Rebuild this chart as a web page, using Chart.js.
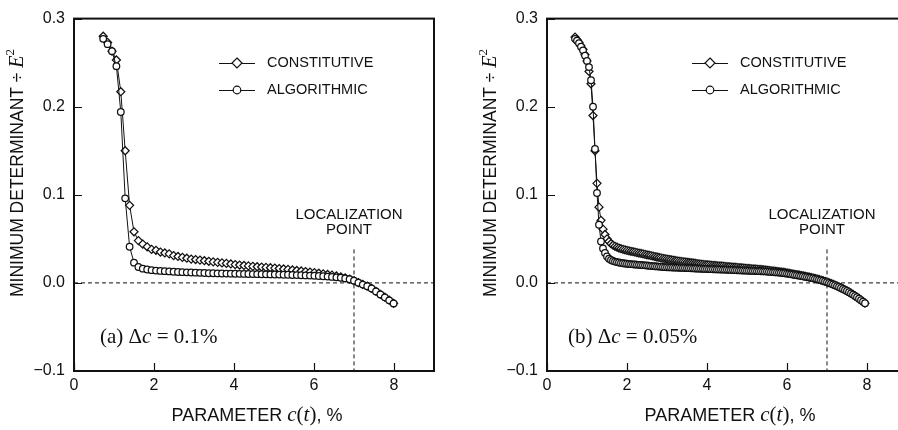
<!DOCTYPE html>
<html>
<head>
<meta charset="utf-8">
<script src="https://cdn.jsdelivr.net/npm/chart.js@4.4.1/dist/chart.umd.min.js"></script>
<style>
  html, body { margin: 0; padding: 0; background: #fff; }
  #wrap { position: relative; width: 898px; height: 430px; overflow: hidden; }
  .panel { position: absolute; top: 0; width: 473px; height: 430px; }
</style>
</head>
<body>
<div id="wrap">
  <div class="panel" style="left:0"><canvas id="chart-a" width="473" height="430"></canvas></div>
  <div class="panel" style="left:473px"><canvas id="chart-b" width="473" height="430"></canvas></div>
</div>
<script>
// panel (a): dc = 0.1 %
const cA = [
  0.73,0.84,0.95,1.06,1.17,1.28,1.39,1.50,1.61,1.72,
  1.83,1.94,2.05,2.16,2.27,2.38,2.49,2.60,2.71,2.82,
  2.93,3.04,3.15,3.26,3.37,3.48,3.59,3.70,3.81,3.92,
  4.03,4.14,4.25,4.36,4.47,4.58,4.69,4.80,4.91,5.02,
  5.13,5.24,5.35,5.46,5.57,5.68,5.79,5.90,6.01,6.12,
  6.23,6.34,6.45,6.56,6.67,6.78,6.89,7.00,7.11,7.22,
  7.33,7.44,7.55,7.66,7.77,7.88,7.99
];
const constA = [
  .280,.273,.263,.253,.217,.150,.088,.058,.048,.044,
  .041,.038,.037,.035,.034,.033,.031,.030,.029,.028,
  .027,.0265,.0259,.0252,.0245,.0239,.0233,.0227,.0221,.0215,
  .0208,.0203,.0198,.0193,.0188,.0184,.0180,.0176,.0172,.0168,
  .0163,.0158,.0153,.0147,.0141,.0135,.0129,.0123,.0117,.0110,
  .0103,.0096,.0088,.0079,.0069,.0058,.0044,.0026,.0004,-.0017,
  -.0037,-.0063,-.0095,-.0129,-.0162,-.0196,-.0232
];
const algoA = [
  .277,.271,.263,.246,.194,.096,.041,.023,.018,.0162,
  .0152,.0145,.0140,.0136,.0133,.0130,.0127,.0124,.0122,.0120,
  .0118,.0116,.0114,.0112,.0110,.0109,.0108,.0107,.0106,.0105,
  .0104,.0103,.0102,.0101,.0100,.0099,.0098,.0097,.0096,.0095,
  .0094,.0093,.0092,.0090,.0089,.0087,.0085,.0083,.0081,.0078,
  .0075,.0072,.0068,.0063,.0058,.0051,.0041,.0025,.0003,-.0019,
  -.0038,-.0064,-.0097,-.0131,-.0164,-.0198,-.0233
];

// panel (b): dc = 0.05 %
const cB = [
  0.70,0.75,0.80,0.85,0.90,0.95,1.00,1.05,1.10,1.15,
  1.20,1.25,1.30,1.35,1.40,1.45,1.50,1.55,1.60,1.65,
  1.70,1.75,1.80,1.85,1.90,1.95,2.00,2.05,2.10,2.15,
  2.20,2.25,2.30,2.35,2.40,2.45,2.50,2.55,2.60,2.65,
  2.70,2.75,2.80,2.85,2.90,2.95,3.00,3.05,3.10,3.15,
  3.20,3.25,3.30,3.35,3.40,3.45,3.50,3.55,3.60,3.65,
  3.70,3.75,3.80,3.85,3.90,3.95,4.00,4.05,4.10,4.15,
  4.20,4.25,4.30,4.35,4.40,4.45,4.50,4.55,4.60,4.65,
  4.70,4.75,4.80,4.85,4.90,4.95,5.00,5.05,5.10,5.15,
  5.20,5.25,5.30,5.35,5.40,5.45,5.50,5.55,5.60,5.65,
  5.70,5.75,5.80,5.85,5.90,5.95,6.00,6.05,6.10,6.15,
  6.20,6.25,6.30,6.35,6.40,6.45,6.50,6.55,6.60,6.65,
  6.70,6.75,6.80,6.85,6.90,6.95,7.00,7.05,7.10,7.15,
  7.20,7.25,7.30,7.35,7.40,7.45,7.50,7.55,7.60,7.65,
  7.70,7.75,7.80,7.85,7.90,7.95
];
const constB = [
  .279,.276,.273,.269,.265,.259,.252,.240,.226,.190,
  .150,.113,.086,.071,.061,.055,.050,.047,.0445,.0428,
  .0415,.0405,.0396,.0388,.0381,.0375,.0369,.0364,.0359,.0354,
  .0349,.0344,.0339,.0334,.0329,.0324,.0319,.0314,.0309,.0304,
  .0299,.0294,.0289,.0284,.0279,.0275,.0271,.0267,.0263,.0259,
  .0255,.0251,.0247,.0244,.0241,.0238,.0235,.0232,.0229,.0226,
  .0223,.0220,.0217,.0214,.0211,.0208,.0206,.0204,.0202,.0200,
  .0198,.0196,.0194,.0192,.0190,.0188,.0186,.0184,.0182,.0180,
  .0178,.0176,.0174,.0172,.0170,.0168,.0166,.0164,.0162,.0160,
  .0158,.0156,.0154,.0152,.0150,.0148,.0145,.0142,.0139,.0136,
  .0133,.0130,.0127,.0124,.0121,.0118,.0114,.0110,.0106,.0102,
  .0098,.0094,.0090,.0086,.0082,.0077,.0072,.0067,.0062,.0057,
  .0051,.0045,.0039,.0032,.0025,.0018,.0010,.0002,-.0006,-.0015,
  -.0024,-.0034,-.0044,-.0055,-.0066,-.0078,-.0090,-.0103,-.0117,-.0131,
  -.0146,-.0162,-.0178,-.0195,-.0212,-.0230
];
const algoB = [
  .277,.275,.272,.268,.264,.258,.252,.245,.230,.200,
  .152,.102,.066,.047,.039,.034,.030,.0275,.0260,.0250,
  .0242,.0236,.0231,.0227,.0223,.0220,.0217,.0215,.0213,.0211,
  .0209,.0207,.0205,.0203,.0201,.0199,.0197,.0195,.0193,.0191,
  .0189,.0187,.0185,.0183,.0181,.0179,.0178,.0177,.0176,.0175,
  .0174,.0173,.0172,.0171,.0170,.0169,.0168,.0167,.0166,.0165,
  .0164,.0163,.0162,.0161,.0160,.0159,.0158,.0157,.0156,.0155,
  .0154,.0153,.0153,.0152,.0151,.0150,.0149,.0148,.0147,.0146,
  .0145,.0144,.0143,.0142,.0141,.0140,.0139,.0138,.0137,.0136,
  .0135,.0134,.0133,.0132,.0131,.0130,.0129,.0127,.0125,.0123,
  .0121,.0119,.0117,.0115,.0112,.0109,.0106,.0103,.0099,.0095,
  .0091,.0087,.0083,.0079,.0075,.0071,.0067,.0063,.0059,.0054,
  .0049,.0043,.0037,.0031,.0024,.0017,.0009,.0001,-.0008,-.0017,
  -.0026,-.0036,-.0046,-.0057,-.0068,-.0080,-.0092,-.0105,-.0119,-.0133,
  -.0148,-.0163,-.0179,-.0196,-.0213,-.0231
];

const xTicks = [0, 2, 4, 6, 8];
const yTicks = [-0.1, 0.0, 0.1, 0.2, 0.3];
const seriesNames = ['CONSTITUTIVE', 'ALGORITHMIC'];
const locX = 7;        // localization point
const locTop = 0.038;  // where the dashed marker line starts

const SANS = '"Liberation Sans", Arial, Helvetica, sans-serif';
const SERIF = '"Liberation Serif", "Times New Roman", serif';
const INK = '#111';

function pts(xs, ys) {
  return xs.map((x, i) => ({ x: x, y: ys[i] }));
}

// draws a row of text pieces in different fonts
function drawRuns(ctx, runs, x, y, align) {
  let w = 0;
  runs.forEach(r => { ctx.font = r.f; w += ctx.measureText(r.t).width; });
  let cx = align === 'center' ? x - w / 2 : x;
  runs.forEach(r => {
    ctx.font = r.f;
    ctx.fillText(r.t, cx, y + (r.dy || 0));
    cx += ctx.measureText(r.t).width;
  });
}

const framePlugin = {
  id: 'frame',
  afterDatasetsDraw(chart, args, opts) {
    const { ctx, chartArea: a, scales: { x, y } } = chart;
    ctx.save();
    ctx.strokeStyle = INK;
    ctx.lineWidth = 2;
    ctx.strokeRect(a.left, a.top, a.right - a.left, a.bottom - a.top);

    // inward tick marks
    ctx.lineWidth = 1.2;
    ctx.beginPath();
    x.ticks.forEach(t => {
      const px = Math.round(x.getPixelForValue(t.value)) + 0.5;
      ctx.moveTo(px, a.bottom);
      ctx.lineTo(px, a.bottom - 8);
    });
    y.ticks.forEach(t => {
      const py = Math.round(y.getPixelForValue(t.value)) + 0.5;
      ctx.moveTo(a.left, py);
      ctx.lineTo(a.left + 8, py);
    });
    ctx.stroke();

    ctx.fillStyle = INK;

    // axis titles
    ctx.textBaseline = 'alphabetic';
    const midX = (a.left + a.right) / 2 + 3;
    drawRuns(ctx, [
      { t: 'PARAMETER ', f: '18px ' + SANS },
      { t: 'c', f: 'italic 21px ' + SERIF },
      { t: '(', f: '21px ' + SERIF },
      { t: 't', f: 'italic 21px ' + SERIF },
      { t: ')', f: '21px ' + SERIF },
      { t: ', %', f: '18px ' + SANS }
    ], midX, 421, 'center');

    ctx.save();
    ctx.translate(22.5, 173);
    ctx.rotate(-Math.PI / 2);
    drawRuns(ctx, [
      { t: 'MINIMUM DETERMINANT \u00f7 ', f: '17.5px ' + SANS },
      { t: 'E', f: 'italic 20px ' + SERIF },
      { t: '2', f: '13px ' + SERIF, dy: -9 }
    ], 0, 0, 'center');
    ctx.restore();

    // panel label
    drawRuns(ctx, [
      { t: opts.tag + ' \u0394', f: '21px ' + SERIF },
      { t: 'c', f: 'italic 21px ' + SERIF },
      { t: ' = ' + opts.step, f: '21px ' + SERIF }
    ], opts.tagX, 343, 'left');

    // localization note
    ctx.textAlign = 'center';
    ctx.textBaseline = 'middle';
    ctx.font = '15px ' + SANS;
    ctx.fillText('LOCALIZATION', 349, 215);
    ctx.fillText('POINT', 349, 230);

    // legend
    ctx.textAlign = 'left';
    ctx.font = '14.5px ' + SANS;
    [63, 90].forEach((ly, i) => {
      ctx.lineWidth = 1;
      ctx.beginPath();
      ctx.moveTo(219, ly + 0.5);
      ctx.lineTo(255, ly + 0.5);
      ctx.stroke();
      ctx.fillStyle = '#fff';
      ctx.lineWidth = 1.2;
      ctx.beginPath();
      if (i === 0) {
        ctx.moveTo(237, ly - 5);
        ctx.lineTo(242, ly);
        ctx.lineTo(237, ly + 5);
        ctx.lineTo(232, ly);
        ctx.closePath();
      } else {
        ctx.arc(237, ly, 3.8, 0, Math.PI * 2);
      }
      ctx.fill();
      ctx.stroke();
      ctx.fillStyle = INK;
      ctx.fillText(seriesNames[i], 267, ly);
    });
    ctx.restore();
  }
};

function makeChart(id, xs, cons, algo, tag, step, tagX) {
  return new Chart(document.getElementById(id), {
    type: 'scatter',
    data: {
      datasets: [
        {
          label: seriesNames[1],
          data: pts(xs, algo),
          showLine: true,
          borderColor: INK,
          borderWidth: 1,
          pointStyle: 'circle',
          pointRadius: 3.3,
          pointBackgroundColor: '#fff',
          pointBorderColor: INK,
          pointBorderWidth: 1.25
        },
        {
          label: seriesNames[0],
          data: pts(xs, cons),
          showLine: true,
          borderColor: INK,
          borderWidth: 1,
          pointStyle: 'rectRot',
          pointRadius: 4,
          pointBackgroundColor: '#fff',
          pointBorderColor: INK,
          pointBorderWidth: 1.25
        },
        {
          data: [{ x: 0, y: 0 }, { x: 9, y: 0 }],
          showLine: true,
          borderColor: INK,
          borderWidth: 1,
          borderDash: [4, 3],
          pointRadius: 0
        },
        {
          data: [{ x: locX, y: locTop }, { x: locX, y: -0.1 }],
          showLine: true,
          borderColor: INK,
          borderWidth: 1,
          borderDash: [4, 3],
          pointRadius: 0
        }
      ]
    },
    options: {
      responsive: false,
      animation: false,
      layout: { padding: { left: 0, right: 39, top: 10, bottom: 0 } },
      plugins: {
        legend: { display: false },
        tooltip: { enabled: false },
        frame: { tag: tag, step: step, tagX: tagX }
      },
      scales: {
        x: {
          type: 'linear',
          min: 0,
          max: 9,
          afterBuildTicks: s => { s.ticks = xTicks.map(v => ({ value: v })); },
          afterFit: s => { s.height = 59; },
          ticks: {
            color: INK,
            font: { family: SANS, size: 16 },
            padding: 5,
            maxRotation: 0,
            callback: v => String(v)
          },
          grid: { drawOnChartArea: false, drawTicks: false },
          border: { display: false }
        },
        y: {
          min: -0.1,
          max: 0.3,
          afterBuildTicks: s => { s.ticks = yTicks.map(v => ({ value: v })); },
          afterFit: s => { s.width = 74; },
          ticks: {
            color: INK,
            font: { family: SANS, size: 16 },
            padding: 9,
            callback: v => (v < 0 ? '\u2212' : '') + Math.abs(v).toFixed(1)
          },
          grid: { drawOnChartArea: false, drawTicks: false },
          border: { display: false }
        }
      }
    },
    plugins: [framePlugin]
  });
}

makeChart('chart-a', cA, constA, algoA, '(a)', '0.1%', 100);
makeChart('chart-b', cB, constB, algoB, '(b)', '0.05%', 95);
</script>
</body>
</html>
